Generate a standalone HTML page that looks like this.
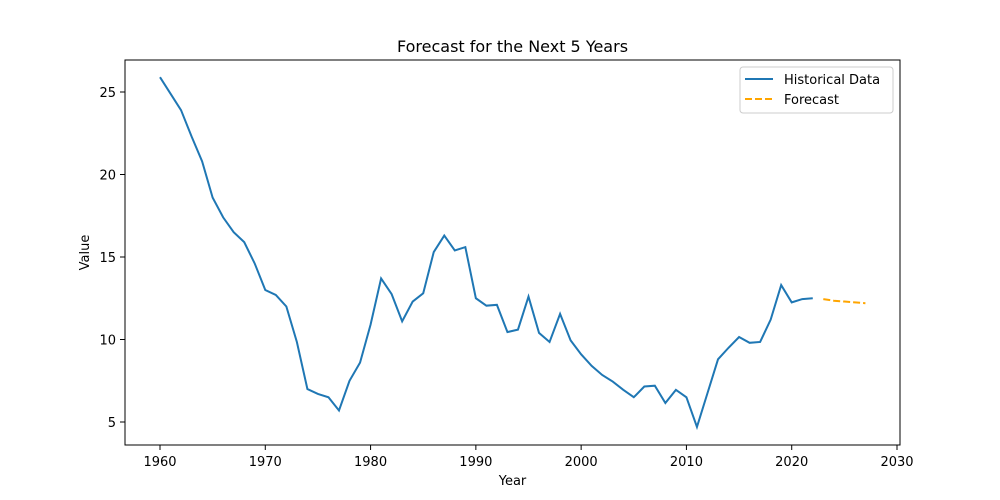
<!DOCTYPE html>
<html><head><meta charset="utf-8"><style>
body{margin:0;background:#fff;}
svg{display:block;font-family:"DejaVu Sans","Liberation Sans",sans-serif;}
</style></head><body>
<svg id="chart" width="1000" height="500" xmlns="http://www.w3.org/2000/svg">
<rect width="1000" height="500" fill="#fff"/>
<text x="512.5" y="52" text-anchor="middle" font-size="16" fill="#000">Forecast for the Next 5 Years</text>
<g id="ticks"></g>
<path id="hist" fill="none" stroke="#1f77b4" stroke-width="2"/>
<path id="fc" fill="none" stroke="#ffa500" stroke-width="2" stroke-dasharray="7,3"/>
<rect x="125" y="60" width="775" height="385" fill="none" stroke="#000" stroke-width="1"/>
<text x="512.5" y="485" text-anchor="middle" font-size="13">Year</text>
<text transform="translate(89,252.5) rotate(-90)" text-anchor="middle" font-size="13">Value</text>
<g>
<rect x="740" y="67" width="153" height="46" rx="3" fill="#fff" stroke="#ccc"/>
<line x1="745" y1="79" x2="773" y2="79" stroke="#1f77b4" stroke-width="2"/>
<text x="784" y="84" font-size="13">Historical Data</text>
<line x1="745" y1="99" x2="773" y2="99" stroke="#ffa500" stroke-width="2" stroke-dasharray="7,3"/>
<text x="784" y="104" font-size="13">Forecast</text>
</g>
</svg>
<script>
const histStartYear = 1960;
const histValues = [25.9,24.9,23.9,22.3,20.8,18.6,17.4,16.5,15.9,14.6,13.0,12.7,12.0,9.85,7.0,6.7,6.5,5.7,7.5,8.6,10.9,13.7,12.75,11.1,12.3,12.8,15.3,16.3,15.4,15.6,12.5,12.05,12.1,10.45,10.6,12.6,10.4,9.85,11.55,9.95,9.1,8.4,7.85,7.45,6.95,6.5,7.15,7.2,6.15,6.95,6.5,4.7,6.75,8.8,9.5,10.15,9.8,9.85,11.2,13.3,12.25,12.45,12.5];
const forecastYears = [2023,2024,2025,2026,2027];
const forecastValues = [12.45,12.35,12.3,12.25,12.2];
const xTicks = [1960,1970,1980,1990,2000,2010,2020,2030];
const yTicks = [5,10,15,20,25];

const xs = y => 160 + (y - 1960) * (737 / 70);
const ys = v => 422 - (v - 5) * 16.5;
const NS = "http://www.w3.org/2000/svg";
const g = document.getElementById('ticks');
function mk(tag, attrs){const e=document.createElementNS(NS,tag);for(const k in attrs)e.setAttribute(k,attrs[k]);g.appendChild(e);return e;}
xTicks.forEach(t=>{
  const x=xs(t);
  const l=mk('line',{x1:x,y1:445,x2:x,y2:450,stroke:'#000'});
  
  
  const tx=mk('text',{x:x,y:466,'text-anchor':'middle','font-size':13});
  tx.textContent=t;
  
  
});
yTicks.forEach(t=>{
  const y=ys(t);
  const l=mk('line',{x1:120,y1:y,x2:125,y2:y,stroke:'#000'});
  
  
  const tx=mk('text',{x:116,y:y+5,'text-anchor':'end','font-size':13});
  tx.textContent=t;
  
  
});
document.getElementById('hist').setAttribute('d', histValues.map((v,i)=>(i?'L':'M')+xs(histStartYear+i)+','+ys(v)).join(''));
document.getElementById('fc').setAttribute('d', forecastValues.map((v,i)=>(i?'L':'M')+xs(forecastYears[i])+','+ys(v)).join(''));
</script>
</body></html>
